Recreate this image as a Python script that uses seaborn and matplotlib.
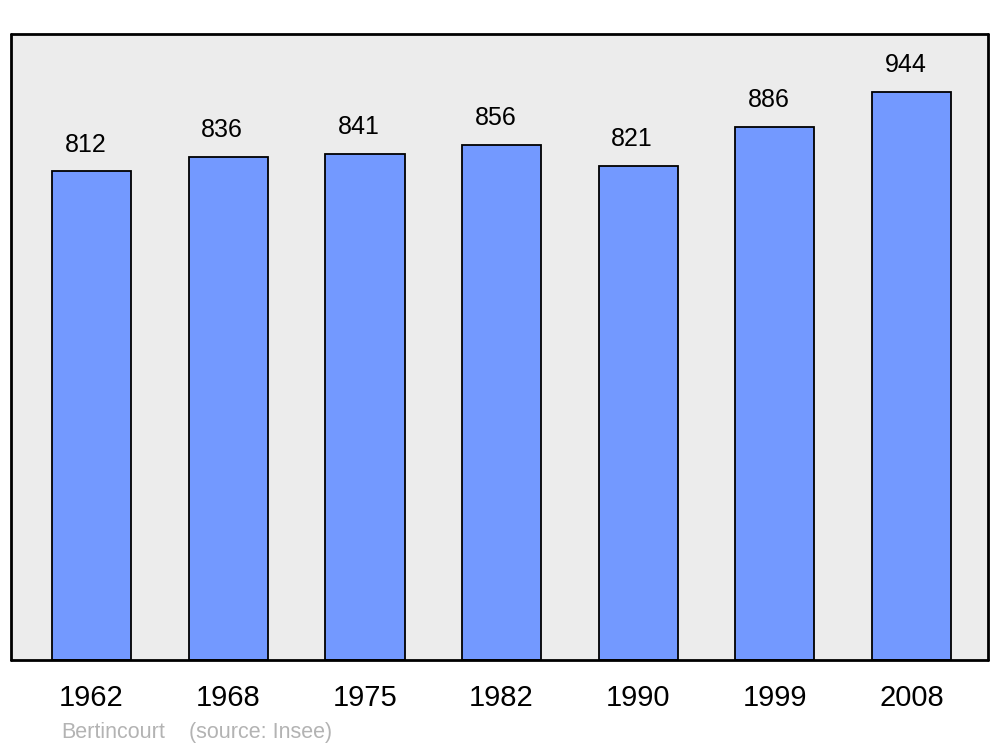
import seaborn as sns
import matplotlib.pyplot as plt
import pandas as pd

years = ['1962', '1968', '1975', '1982', '1990', '1999', '2008']
population = [812, 836, 841, 856, 821, 886, 944]

df = pd.DataFrame({'year': years, 'pop': population})

sns.set_style('white')
plt.rcParams['font.family'] = ['Liberation Sans', 'DejaVu Sans']
plt.rcParams['text.color'] = 'black'
plt.rcParams['xtick.color'] = 'black'

fig = plt.figure(figsize=(10, 7.47), dpi=100)
ax = fig.add_axes([0.011, 0.1165, 0.977, 0.838])
ax.set_facecolor('#ececec')

sns.barplot(data=df, x='year', y='pop', color='#7399ff', saturation=1,
            edgecolor='black', linewidth=1.3, width=0.58, ax=ax)

for i, v in enumerate(population):
    ax.annotate(str(v), (i, v), xytext=(-4.3, 10.5), textcoords='offset points',
                ha='center', va='bottom', fontsize=18, color='black')

ax.set_xlim(-0.59, 6.56)
ax.set_ylim(0, 1040)
ax.set_xlabel('')
ax.set_ylabel('')
ax.set_yticks([])
ax.tick_params(axis='x', length=0, pad=17, labelsize=21, labelcolor='black')
for s in ax.spines.values():
    s.set_visible(True)
    s.set_color('black')
    s.set_linewidth(2)
    s.set_capstyle('round')

fig.text(0.061, 0.005, 'Bertincourt', color='#b3b3b3', fontsize=15.5, va='bottom')
fig.text(0.189, 0.005, '(source: Insee)', color='#b3b3b3', fontsize=15.5, va='bottom')

fig.savefig('out.png', dpi=100)
